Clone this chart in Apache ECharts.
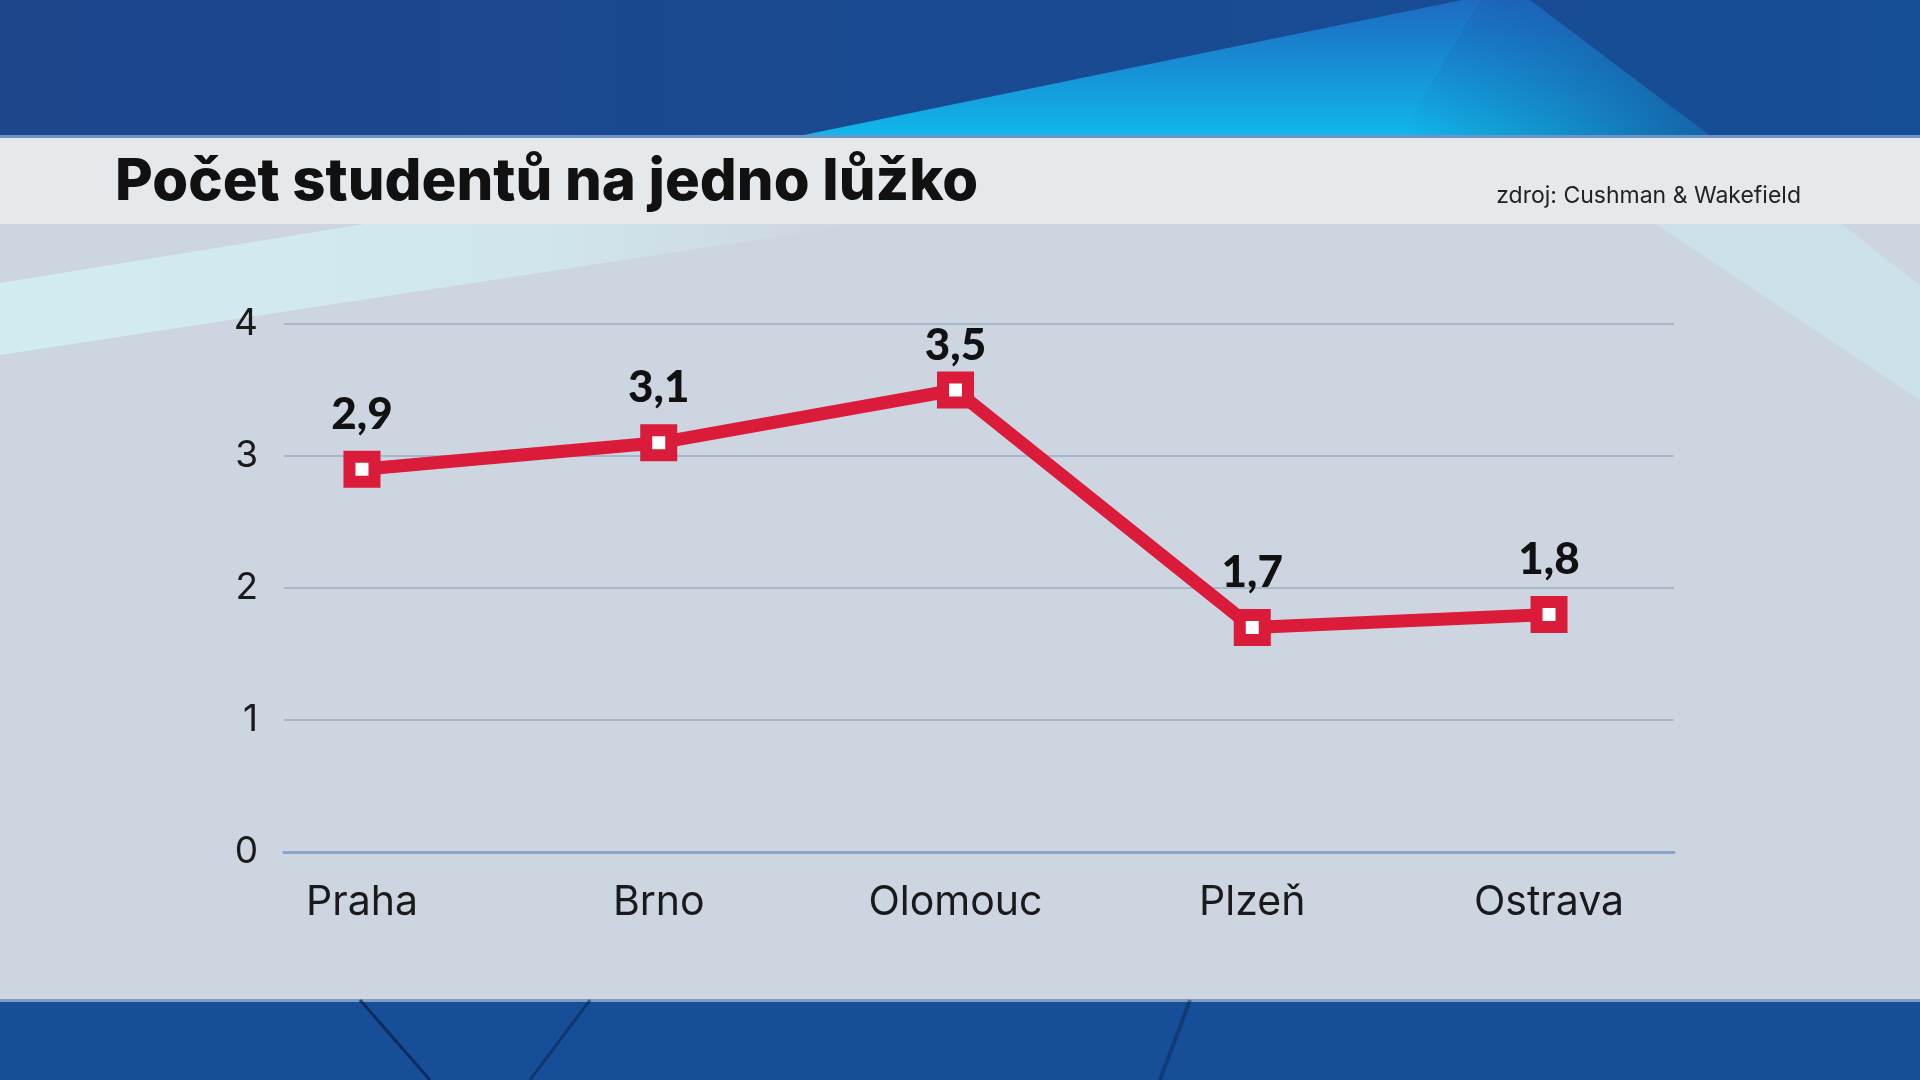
<!DOCTYPE html>
<html>
<head>
<meta charset="utf-8">
<title>Počet studentů na jedno lůžko</title>
<script src="https://cdn.jsdelivr.net/npm/echarts@6/dist/echarts.min.js"></script>
<style>
html, body { margin: 0; padding: 0; }
#chart { width: 1920px; height: 1080px; }
</style>
</head>
<body>
<div id="chart"></div>
<script>
/***** data *****/
var cities = ['Praha', 'Brno', 'Olomouc', 'Plzeň', 'Ostrava'];
var studentsPerBed = [2.9, 3.1, 3.5, 1.7, 1.8];
var yTicks = [0, 1, 2, 3, 4];

var titleText = 'Počet studentů na jedno lůžko';
var sourceText = 'zdroj: Cushman & Wakefield';

var RED = '#da1b39';
var FONT = 'Inter';

/***** chart *****/
var myChart = echarts.init(document.getElementById('chart'));

function decimalComma(v) {
	return String(v).replace('.', ',');
}

// the peak label sits a bit closer to its marker in the original
var lineData = studentsPerBed.map(function (v, i) {
	if (i === 2) {
		return { value: v, label: { distance: 4 } };
	}
	return v;
});

var option = {
	backgroundColor: '#cdd5e1',
	animation: false,
	title: [{
		text: titleText,
		left: 110,
		top: 149,
		textStyle: { fontFamily: FONT, fontWeight: 800, fontSize: 58, color: '#111' }
	}, {
		text: sourceText,
		right: 114,
		top: 180,
		textStyle: { fontFamily: FONT, fontWeight: 'normal', fontSize: 23, color: '#222' }
	}],
	graphic: [
		// top blue band
		{ type: 'rect', z: -10, shape: { x: 0, y: 0, width: 1920, height: 137 },
			style: { fill: new echarts.graphic.LinearGradient(0, 0, 1, 0, [
				{ offset: 0, color: '#1d468b' }, { offset: 1, color: '#164e97' }]) } },
		{ type: 'polygon', z: -9, shape: { points: [[794, 137], [1711, 137], [1530, 0], [1462, 0]] },
			style: { fill: new echarts.graphic.LinearGradient(0, 0, 0, 1, [
				{ offset: 0, color: 'rgba(30,110,200,0.9)' },
				{ offset: 1, color: 'rgba(16,185,235,1)' }]) } },
		{ type: 'polygon', z: -9, shape: { points: [[1400, 137], [1711, 137], [1530, 0], [1480, 0]] },
			style: { fill: new echarts.graphic.LinearGradient(0, 0, 1, 0, [
				{ offset: 0, color: 'rgba(22,78,151,0)' },
				{ offset: 0.5, color: 'rgba(22,78,151,0.35)' },
				{ offset: 1, color: 'rgba(22,78,151,0.8)' }]) } },
		// light panel streaks
		{ type: 'polygon', z: -9, shape: { points: [[0, 283], [364, 224], [860, 224], [0, 355]] },
			style: { fill: new echarts.graphic.LinearGradient(0, 0, 1, 0, [
				{ offset: 0, color: 'rgba(210,238,242,0.95)' },
				{ offset: 0.6, color: 'rgba(210,238,242,0.7)' },
				{ offset: 1, color: 'rgba(210,238,242,0)' }]) } },
		{ type: 'polygon', z: -9, shape: { points: [[1656, 224], [1841, 224], [1920, 285], [1920, 400]] },
			style: { fill: 'rgba(205,230,238,0.7)' } },
		// title bar
		{ type: 'rect', z: -8, shape: { x: 0, y: 137, width: 1920, height: 87 },
			style: { fill: '#e6e9ec' } },
		{ type: 'rect', z: -8, shape: { x: 0, y: 135, width: 1920, height: 3 },
			style: { fill: '#6f95c8' } },
		// bottom blue band
		{ type: 'rect', z: -8, shape: { x: 0, y: 1000, width: 1920, height: 80 },
			style: { fill: '#164f98' } },
		{ type: 'rect', z: -8, shape: { x: 0, y: 999, width: 1920, height: 3 },
			style: { fill: '#7d9dc6' } },
		{ type: 'line', z: -7, shape: { x1: 360, y1: 1000, x2: 430, y2: 1080 },
			style: { stroke: 'rgba(10,30,70,0.7)', lineWidth: 3 } },
		{ type: 'line', z: -7, shape: { x1: 590, y1: 1000, x2: 530, y2: 1080 },
			style: { stroke: 'rgba(10,30,70,0.5)', lineWidth: 3 } },
		{ type: 'line', z: -7, shape: { x1: 1190, y1: 1000, x2: 1160, y2: 1080 },
			style: { stroke: 'rgba(10,30,70,0.4)', lineWidth: 4 } }
	],
	grid: [
		// gridlines and y labels
		{ left: 284, right: 246, top: 324, bottom: 228 },
		// category positions and x labels
		{ left: 213.6, right: 222.6, top: 324, bottom: 228 }
	],
	xAxis: [{
		gridIndex: 0,
		type: 'value',
		min: 0, max: 1,
		axisLabel: { show: false },
		axisTick: { show: false },
		splitLine: { show: false },
		axisLine: { show: true, lineStyle: { color: '#86a4c6', width: 3 } }
	}, {
		gridIndex: 1,
		type: 'category',
		data: cities,
		boundaryGap: true,
		axisLine: { show: false },
		axisTick: { show: false },
		axisLabel: {
			margin: 30,
			fontFamily: FONT, fontSize: 41, color: '#1a1a1a'
		}
	}],
	yAxis: [{
		gridIndex: 0,
		type: 'value',
		min: yTicks[0], max: yTicks[yTicks.length - 1], interval: 1,
		axisLine: { show: false },
		axisTick: { show: false },
		axisLabel: {
			margin: 26, padding: [0, 0, 19, 0],
			fontFamily: FONT, fontSize: 37, color: '#1a1a1a'
		},
		splitLine: { lineStyle: { color: '#a6b7cc', width: 2 } }
	}, {
		gridIndex: 1,
		type: 'value',
		min: yTicks[0], max: yTicks[yTicks.length - 1],
		show: false,
		splitLine: { show: false }
	}],
	series: [{
		type: 'line',
		xAxisIndex: 1,
		yAxisIndex: 1,
		data: lineData,
		symbol: 'rect',
		symbolSize: 25,
		lineStyle: { color: RED, width: 13 },
		itemStyle: { color: '#fff', borderColor: RED, borderWidth: 12 },
		label: {
			show: true,
			position: 'top',
			distance: 14,
			formatter: function (p) { return decimalComma(p.value); },
			fontFamily: 'Lato', fontWeight: 900, fontSize: 44, color: '#111'
		},
		z: 5
	}]
};

myChart.setOption(option);
</script>
</body>
</html>
